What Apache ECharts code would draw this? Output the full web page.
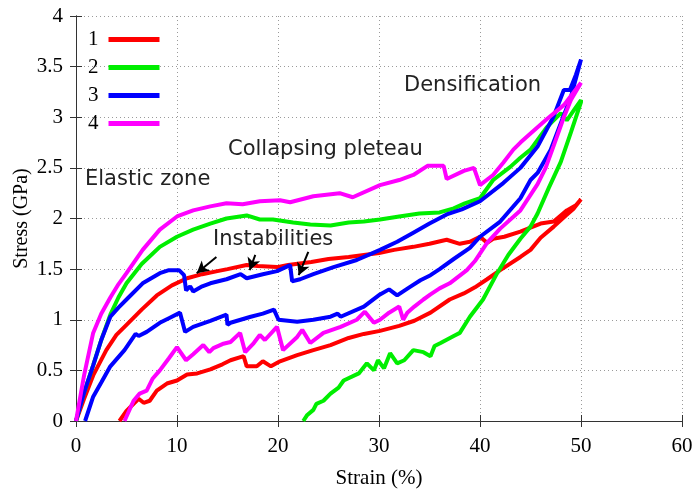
<!DOCTYPE html>
<html>
<head>
<meta charset="utf-8">
<script src="https://cdn.jsdelivr.net/npm/echarts@6/dist/echarts.min.js"></script>
<style>
  html, body { margin: 0; padding: 0; background: #fff; }
  #main { width: 697px; height: 489px; }
</style>
</head>
<body>
<div id="main"></div>
<script>
// legend names + colours
var seriesNames = ['1', '2', '3', '4']
var seriesColors = ['#ff0000', '#00ee00', '#0000ff', '#ff00ff']

// [strain %, stress GPa] - loading branch then unloading branch
var s1Load = [[0,0],[0.8,0.22],[1.7,0.45],[3,0.7],[4,0.85],[5,0.95],[6.5,1.1],[8,1.24],[9.5,1.34],[11,1.41],[12.5,1.45],[14,1.48],[15,1.5],[16.9,1.54],[18,1.53],[19.9,1.52],[21,1.54],[23.3,1.57],[25,1.6],[27,1.62],[28.5,1.64],[30,1.66],[31.5,1.69],[33.4,1.72],[35,1.75],[36.7,1.79],[38,1.75],[39,1.77],[40,1.82],[40.7,1.76],[41.3,1.8],[42.4,1.82],[44,1.87],[46,1.95],[47.3,1.97],[48.6,2.08],[49.5,2.13],[50,2.19]]
var s1Unload = [[50,2.19],[49.3,2.1],[48.5,2.03],[47.3,1.92],[46,1.81],[45,1.69],[44,1.62],[42,1.49],[40.7,1.4],[39.5,1.32],[38.4,1.26],[37,1.2],[35.1,1.07],[33.5,0.99],[32,0.94],[30.1,0.89],[28.5,0.86],[27,0.82],[25.2,0.75],[23.5,0.7],[21.9,0.65],[20.2,0.59],[19.3,0.54],[18.5,0.59],[17.9,0.54],[16.9,0.54],[16.6,0.64],[15.3,0.6],[14.5,0.56],[13.3,0.51],[12,0.47],[11,0.46],[10,0.4],[9,0.37],[8,0.3],[7.3,0.2],[6.7,0.18],[6.2,0.22],[5,0.1],[4.3,0]]

var s2Load = [[0,0],[0.8,0.28],[1.7,0.55],[2.5,0.8],[3.4,1.05],[4.2,1.22],[5,1.36],[6.5,1.55],[8.3,1.72],[10,1.82],[11.6,1.89],[13.3,1.95],[14.9,2.0],[16.9,2.03],[18.2,1.99],[19.5,1.99],[21.5,1.96],[23.2,1.94],[25.2,1.93],[27,1.96],[28.5,1.97],[30.1,1.99],[32,2.02],[34,2.05],[36,2.06],[37.4,2.1],[38.5,2.15],[40,2.2],[41.3,2.38],[43,2.51],[44,2.6],[45,2.68],[46.6,2.9],[48,3.04],[48.6,2.97],[49.3,3.07],[50,3.17]]
var s2Unload = [[50,3.15],[49,2.85],[48,2.56],[46.8,2.3],[45.7,2.05],[45,1.92],[44,1.8],[42.8,1.64],[41.7,1.46],[40.3,1.2],[39,1.03],[38,0.87],[37.4,0.84],[36.1,0.77],[35.5,0.74],[35.1,0.64],[34.4,0.68],[33.4,0.7],[32.5,0.6],[31.8,0.57],[31.1,0.67],[30.5,0.52],[29.9,0.6],[29.5,0.5],[28.8,0.57],[28,0.47],[26.5,0.4],[26,0.33],[25.2,0.27],[24.5,0.2],[23.8,0.17],[23.5,0.11],[22.9,0.06],[22.5,0]]

var s3Load = [[0,0],[0.8,0.28],[1.7,0.55],[2.5,0.8],[3.4,1.03],[4.2,1.12],[5,1.2],[6.6,1.36],[8.3,1.46],[9.2,1.49],[10.2,1.49],[10.7,1.44],[10.9,1.29],[11.3,1.33],[11.6,1.28],[12.5,1.33],[13.3,1.36],[14.9,1.4],[16.3,1.45],[16.9,1.41],[18.5,1.45],[19.9,1.48],[21.2,1.54],[21.4,1.38],[22.2,1.4],[23.5,1.45],[25.5,1.52],[27.8,1.59],[30.1,1.69],[31.8,1.77],[33.4,1.86],[35,1.95],[36.7,2.04],[38.2,2.09],[40,2.17],[42.3,2.35],[44,2.5],[45.7,2.71],[47.3,3.01],[48.3,3.27],[48.9,3.27],[49.5,3.42],[50,3.57]]
var s3Unload = [[50,3.57],[49,3.2],[48,2.94],[47,2.68],[45.7,2.45],[45,2.38],[44,2.2],[42,1.97],[40,1.82],[39,1.71],[37.4,1.6],[36,1.5],[35.1,1.44],[34.1,1.39],[33,1.32],[31.8,1.24],[31,1.3],[30.1,1.25],[28.5,1.13],[26.2,1.03],[25.9,1.06],[25.2,1.03],[23.5,1.0],[21.9,0.98],[20.05,1.0],[19.6,1.1],[18.5,1.06],[17.3,1.03],[15.3,0.97],[15,0.95],[14.9,1.05],[13.3,0.99],[11.6,0.93],[10.8,0.88],[10.3,1.07],[9.3,1.02],[8.3,0.97],[7,0.88],[6.2,0.84],[5.9,0.86],[4.8,0.7],[3.4,0.54],[2.5,0.38],[1.7,0.24],[0.9,0]]

var s4Load = [[0,0],[0.8,0.45],[1.7,0.87],[2.5,1.06],[3.4,1.22],[4.2,1.35],[5,1.46],[6.6,1.69],[8.3,1.89],[10,2.02],[11.6,2.08],[13.3,2.12],[14.9,2.15],[16.5,2.14],[18.2,2.17],[20.2,2.18],[21.2,2.16],[23.5,2.22],[26.1,2.25],[27.4,2.21],[30.1,2.33],[32,2.38],[33.4,2.43],[34.8,2.52],[36.4,2.52],[36.7,2.39],[38.4,2.47],[39.4,2.5],[40,2.33],[41.3,2.43],[42.3,2.55],[43.3,2.68],[44,2.75],[45,2.84],[46.6,2.98],[48.3,3.12],[50,3.34]]
var s4Unload = [[50,3.34],[49,3.17],[48.3,3.0],[47.3,2.72],[46.5,2.5],[45.7,2.34],[44,2.08],[42,1.9],[40.7,1.76],[39.5,1.58],[38.7,1.49],[37,1.36],[36,1.31],[35.1,1.25],[34.4,1.2],[33.5,1.13],[32.8,1.07],[32.4,1.0],[32,1.13],[31,1.07],[30.1,1.0],[29.5,0.97],[28.6,1.08],[27.8,1.0],[26.2,0.93],[24.5,0.87],[23.2,0.77],[22.4,0.9],[21.9,0.83],[20.5,0.7],[19.9,0.93],[18.7,0.8],[18.2,0.85],[17.6,0.77],[16.75,0.68],[16.25,0.87],[15.3,0.78],[14.5,0.76],[13.6,0.72],[13.2,0.68],[12.6,0.75],[11.6,0.66],[10.9,0.6],[10,0.73],[9.2,0.62],[8.3,0.5],[7.6,0.42],[7,0.3],[6.3,0.27],[5.7,0.2],[4.8,0]]

// annotation arrows: [from, to] in data units
var arrowLines = [
    [[13.9, 1.62], [11.95, 1.46]],
    [[17.75, 1.64], [17.2, 1.49]],
    [[23.0, 1.67], [22.05, 1.44]]
]
// annotation texts: [label, left px, middle px]
var notes = [
    ['Elastic zone', 85, 181],
    ['Collapsing pleteau', 228, 151],
    ['Instabilities', 213, 241],
    ['Densification', 404, 87]
]

var allData = [s1Load.concat(s1Unload), s2Load.concat(s2Unload), s3Load.concat(s3Unload), s4Load.concat(s4Unload)]

var serifFont = 'Liberation Serif'
var sansFont = 'DejaVu Sans'
var axisColor = '#333'

var myChart = echarts.init(document.getElementById('main'), null, { renderer: 'canvas' })

var series = []
for (var i = 0; i < allData.length; i++) {
    series.push({
        name: seriesNames[i],
        type: 'line',
        data: allData[i],
        showSymbol: false,
        symbol: 'none',
        smooth: false,
        lineStyle: { color: seriesColors[i], width: 4 },
        itemStyle: { color: seriesColors[i] },
        z: 3 + i,
    })
}
// arrows
series.push({
    name: 'arrows',
    type: 'line',
    data: [],
    z: 10,
    markLine: {
        silent: true,
        symbol: ['none', 'arrow'],
        symbolSize: [10, 12],
        label: { show: false },
        lineStyle: { color: '#000', width: 2, type: 'solid' },
        data: arrowLines.map(function(a) {
            return [{ coord: a[0] }, { coord: a[1] }]
        }),
    },
})

var mirrorAxis = {
    min: 0,
    type: 'value',
    axisLabel: { show: false },
    axisLine: { show: true, lineStyle: { color: axisColor, width: 1 } },
    axisTick: { show: true, inside: true, length: 6, lineStyle: { color: axisColor } },
    splitLine: { show: false },
}

var option = {
    animation: false,
    backgroundColor: '#fff',
    grid: { left: 76, right: 15, top: 16, bottom: 68, outerBoundsMode: 'none', containLabel: false },
    legend: {
        data: seriesNames,
        orient: 'vertical',
        left: 83,
        top: 24,
        align: 'right',
        icon: 'rect',
        itemWidth: 51,
        itemHeight: 5,
        itemGap: 7,
        textStyle: { fontFamily: serifFont, fontSize: 21, color: '#000', padding: [0, 5, 0, 0], lineHeight: 21 },
    },
    xAxis: [
        {
            type: 'value',
            min: 0,
            max: 60,
            interval: 10,
            name: 'Strain (%)',
            nameLocation: 'middle',
            nameGap: 47,
            nameMoveOverlap: false,
            nameTextStyle: { fontFamily: serifFont, fontSize: 21, color: '#000' },
            axisLine: { show: true, onZero: false, lineStyle: { color: axisColor, width: 1 } },
            axisTick: { show: true, inside: true, length: 6, lineStyle: { color: axisColor } },
            axisLabel: { fontFamily: serifFont, fontSize: 21, color: '#000', margin: 15 },
            splitLine: { show: true, lineStyle: { color: '#9a9a9a', type: [1, 3], width: 1 } },
        },
        Object.assign({}, mirrorAxis, { position: 'top', max: 60, interval: 10 }),
    ],
    yAxis: [
        {
            type: 'value',
            min: 0,
            max: 4,
            interval: 0.5,
            name: 'Stress (GPa)',
            nameLocation: 'middle',
            nameGap: 44,
            nameMoveOverlap: false,
            nameTextStyle: { fontFamily: serifFont, fontSize: 20, color: '#000' },
            axisLine: { show: true, onZero: false, lineStyle: { color: axisColor, width: 1 } },
            axisTick: { show: true, inside: true, length: 6, lineStyle: { color: axisColor } },
            axisLabel: { fontFamily: serifFont, fontSize: 21, color: '#000', margin: 13 },
            splitLine: { show: true, lineStyle: { color: '#9a9a9a', type: [1, 3], width: 1 } },
        },
        Object.assign({}, mirrorAxis, { position: 'right', max: 4, interval: 0.5 }),
    ],
    graphic: notes.map(function(n) {
        return {
            type: 'text',
            left: n[1],
            top: n[2] - 12,
            z: 20,
            style: { text: n[0], fontFamily: sansFont, fontSize: 21, fill: '#222' },
        }
    }),
    series: series,
}
myChart.setOption(option)
</script>
</body>
</html>
